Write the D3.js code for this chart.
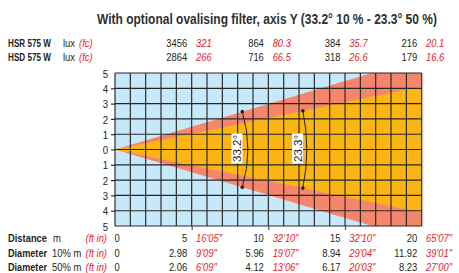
<!DOCTYPE html>
<html><head><meta charset="utf-8">
<script src="https://cdn.jsdelivr.net/npm/d3@7"></script>
<style>
html,body{margin:0;padding:0;background:#fff;}
svg{display:block;}
text{font-family:"Liberation Sans",Arial,sans-serif;fill:#231f20;}
</style></head><body>
<svg id="c" width="459" height="273"></svg>
<script>
// ---- data ----
const distances = [0, 5, 10, 15, 20];
const distFt = ["", "16'05\"", "32'10\"", "32'10\"", "65'07\""];
const diam10 = [0, 2.98, 5.96, 8.94, 11.92];
const diam10Ft = ["", "9'09\"", "19'07\"", "29'04\"", "39'01\""];
const diam50 = [0, 2.06, 4.12, 6.17, 8.23];
const diam50Ft = ["", "6'09\"", "13'06\"", "20'03\"", "27'00\""];
const hsrLux = ["3456", "864", "384", "216"];
const hsrFc = ["321", "80.3", "35.7", "20.1"];
const hsdLux = ["2864", "716", "318", "179"];
const hsdFc = ["266", "66.5", "26.6", "16.6"];
const yTicks = [-5, -4, -3, -2, -1, 0, 1, 2, 3, 4, 5];
const xGrid = d3.range(0, 21, 1);
const annotLabels = ["33.2°", "23.3°"];
const annotDist = [8.3, 12.25];
const annotSeries = ["d10", "d50"];
const title = "With optional ovalising filter, axis Y (33.2° 10 % - 23.3° 50 %)";

// ---- setup ----
const svg = d3.select("#c");
const RED = "#e3232b";
const SX = 0.84;
const x = d3.scaleLinear().domain([0, 20]).range([115, 421.7]);
const y = d3.scaleLinear().domain([-5, 5]).range([226, 73]);
const half10 = d3.scaleLinear().domain(distances).range(diam10.map(v => v / 2));
const half50 = d3.scaleLinear().domain(distances).range(diam50.map(v => v / 2));

function fitScale(t, target) {
  const w = t.node().getComputedTextLength();
  return w > 0 ? target / w : SX;
}

// title
const tt = svg.append("text").attr("font-weight", "bold").attr("font-size", 14.5)
  .style("fill", "#2f2f2f").text(title);
tt.attr("transform", `translate(97,24) scale(${fitScale(tt, 340)},1)`);

// plot background
svg.append("defs").append("clipPath").attr("id", "clip").append("rect")
  .attr("x", x(0)).attr("y", y(5)).attr("width", x(20) - x(0)).attr("height", y(-5) - y(5));
svg.append("rect").attr("x", x(0)).attr("y", y(5)).attr("width", x(20) - x(0)).attr("height", y(-5) - y(5))
  .attr("fill", "#c6e8f8");

const cone = svg.append("g").attr("clip-path", "url(#clip)");
const rows10 = distances.map((d, i) => ({d, v: diam10[i]}));
const rows50 = distances.map((d, i) => ({d, v: diam50[i]}));
const area = d3.area().x(r => x(r.d)).y0(r => y(-r.v / 2)).y1(r => y(r.v / 2));
cone.append("path").attr("d", area(rows10)).attr("fill", "#f5866b");
cone.append("path").attr("d", area(rows50)).attr("fill", "#fbb616");

// grid
const grid = svg.append("g").attr("stroke", "#262626").attr("stroke-width", 1.15);
grid.selectAll("line.v").data(xGrid).join("line")
  .attr("x1", d => x(d)).attr("x2", d => x(d)).attr("y1", y(5)).attr("y2", y(-5));
grid.selectAll("line.h").data(yTicks).join("line")
  .attr("x1", x(0)).attr("x2", x(20)).attr("y1", d => y(d)).attr("y2", d => y(d));
svg.append("line").attr("x1", x(20) + 1.2).attr("x2", x(20) + 1.2).attr("y1", y(5)).attr("y2", y(-5) + 1)
  .attr("stroke", "#c8c8c8").attr("stroke-width", 1);

// y axis
const yAxis = svg.append("g").attr("transform", `translate(${x(0)},0)`)
  .call(d3.axisLeft(y).tickValues(yTicks).tickFormat(d => Math.abs(d)).tickSize(4).tickPadding(0));
yAxis.select(".domain").remove();
yAxis.selectAll(".tick line").attr("stroke", "#262626").attr("stroke-width", 1.15)
  .attr("opacity", d => Math.abs(d) === 5 ? 0 : 1);
yAxis.selectAll(".tick text").attr("x", null).attr("font-size", 11.5)
  .attr("transform", `translate(-7,0) scale(${SX},1)`)
  .style("fill", "#231f20").attr("dy", "0.36em");

// x ticks
const xAxis = svg.append("g").attr("transform", `translate(0,${y(-5)})`)
  .call(d3.axisBottom(x).tickValues([5, 10, 15]).tickSize(4).tickFormat(""));
xAxis.select(".domain").remove();
xAxis.selectAll(".tick line").attr("stroke", "#555").attr("stroke-width", 1.2);

// annotations
const ax = x(0), ay = y(0);
annotDist.forEach((dist, i) => {
  const h = annotSeries[i] === "d10" ? half10(dist) : half50(dist);
  const px = x(dist), pyT = y(h), pyB = y(-h);
  const r = Math.hypot(px - ax, pyT - ay);
  const g = svg.append("g");
  g.append("path").attr("d", `M${px},${pyT}A${r},${r} 0 0 1 ${px},${pyB}`)
    .attr("fill", "none").attr("stroke", "#231f20").attr("stroke-width", 1);
  g.selectAll("circle").data([pyT, pyB]).join("circle")
    .attr("cx", px).attr("cy", d => d).attr("r", 1.8).attr("fill", "#231f20");
  const cx = px - 5.3, cy = ay - 1;
  g.append("rect").attr("x", cx - 5.5).attr("y", cy - 15).attr("width", 11).attr("height", 30).attr("fill", "#fff");
  g.append("text").attr("transform", `translate(${cx + 4},${cy}) rotate(-90)`)
    .attr("text-anchor", "middle").attr("font-size", 11.5).text(annotLabels[i]);
});

// ---- text rows ----
const FS = 11.2;
function label(xp, yp, txt, opts = {}) {
  const t = svg.append("text").attr("font-size", opts.fs || FS).text(txt);
  if (opts.bold) t.attr("font-weight", "bold");
  if (opts.italic) t.attr("font-style", "italic");
  if (opts.red) t.style("fill", RED);
  if (opts.anchor) t.attr("text-anchor", opts.anchor);
  const s = opts.len ? fitScale(t, opts.len) : SX;
  t.attr("transform", `translate(${xp},${yp}) scale(${s},1)`);
  return t;
}
function valueRow(yp, vals, reds, startIdx) {
  vals.forEach((v, i) => {
    const d = distances[i + startIdx];
    label(x(d) - 4.5, yp, v, {anchor: "end"});
    label(x(d) + 4.3, yp, reds[i], {red: true, italic: true});
  });
}
// header rows
[[46.5, "HSR 575 W", hsrLux, hsrFc], [60.5, "HSD 575 W", hsdLux, hsdFc]].forEach(([yp, name, lux, fc]) => {
  label(8, yp, name, {bold: true, len: 43});
  label(63, yp, "lux");
  label(79, yp, "(fc)", {red: true, italic: true});
  valueRow(yp, lux, fc, 1);
});
// bottom rows
const bottom = [
  [242, "Distance", "m", distances.map(String), distFt],
  [256.5, "Diameter", "10% m", diam10.map(String), diam10Ft],
  [270.5, "Diameter", "50% m", diam50.map(String), diam50Ft]
];
bottom.forEach(([yp, name, unit, vals, ft]) => {
  label(8, yp, name, {bold: true, len: 39});
  label(unit === "m" ? 53 : 52, yp, unit);
  label(107, yp, "(ft in)", {red: true, italic: true, anchor: "end"});
  label(114.5, yp, vals[0]);
  valueRow(yp, vals.slice(1), ft.slice(1), 1);
});
</script></body></html>
